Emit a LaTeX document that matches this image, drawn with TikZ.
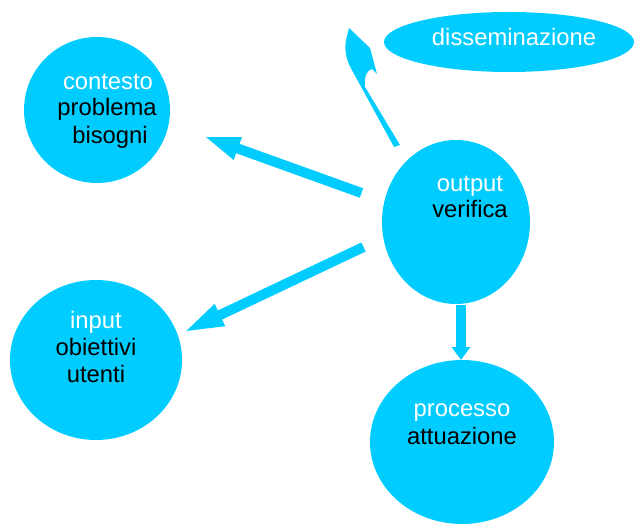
\documentclass[tikz,border=0pt]{standalone}
\usepackage{fontspec}
\setmainfont{Liberation Sans}
\usetikzlibrary{shapes.geometric,arrows.meta}
\definecolor{cy}{HTML}{00CCFF}
\tikzset{
  blob/.style={ellipse, fill=cy, draw=none, inner sep=0pt},
  wlab/.style={text=white, font=\fontsize{23.8}{28}\selectfont, inner sep=0pt, anchor=base},
  blab/.style={text=black, font=\fontsize{23.8}{28}\selectfont, inner sep=0pt, anchor=base},
  fatarrow/.style={draw=cy, line width=10pt},
}
\begin{document}
\begin{tikzpicture}[x=1pt,y=-1pt]
\useasboundingbox (0,0) rectangle (634,526);
% blobs
\node[blob, minimum width=146pt, minimum height=146pt] (contesto) at (97,110) {};
\node[blob, minimum width=172pt, minimum height=160pt] (input) at (96,360) {};
\node[blob, minimum width=148pt, minimum height=164pt] (output) at (456,222) {};
\node[blob, minimum width=184pt, minimum height=164pt] (processo) at (462,442) {};
\node[blob, minimum width=250pt, minimum height=60pt] (diss) at (509,42) {};
% labels
\node[wlab] (t1) at (108,90) {contesto};
\node[blab] (t2) at (107,116) {problema};
\node[blab] (t3) at (110,144) {bisogni};
\node[wlab] (t4) at (96,328) {input};
\node[blab] (t5) at (96,355) {obiettivi};
\node[blab] (t6) at (96,382) {utenti};
\node[wlab] (t7) at (470,192) {output};
\node[blab] (t8) at (470,218) {verifica};
\node[wlab] (t9) at (462,416) {processo};
\node[blab] (t10) at (462,444) {attuazione};
\node[wlab] (t11) at (514,46) {disseminazione};
% arrow anchors
\coordinate (a1s) at (361.5,193);
\coordinate (a1e) at (203,136);
\coordinate (a2s) at (363.5,247);
\coordinate (a2e) at (182,333);
\coordinate (a3s) at (461,305);
\coordinate (a3e) at (461,360);
\draw[fatarrow, -{Triangle[length=37pt,width=21pt]}] (a1s) -- (a1e);
\draw[fatarrow, -{Triangle[length=42pt,width=21pt]}] (a2s) -- (a2e);
\draw[fatarrow, -{Triangle[length=13pt,width=18pt]}] (a3s) -- (a3e);
% curved arrow to disseminazione
\fill[cy] (400,145) -- (365,87) .. controls (364,76) and (367,70) .. (372,69)
  -- (377,74) -- (370,48) -- (349,28) -- (346,40)
  .. controls (344,52) and (347,62) .. (353,72) -- (394,147) -- cycle;
\end{tikzpicture}
\end{document}
